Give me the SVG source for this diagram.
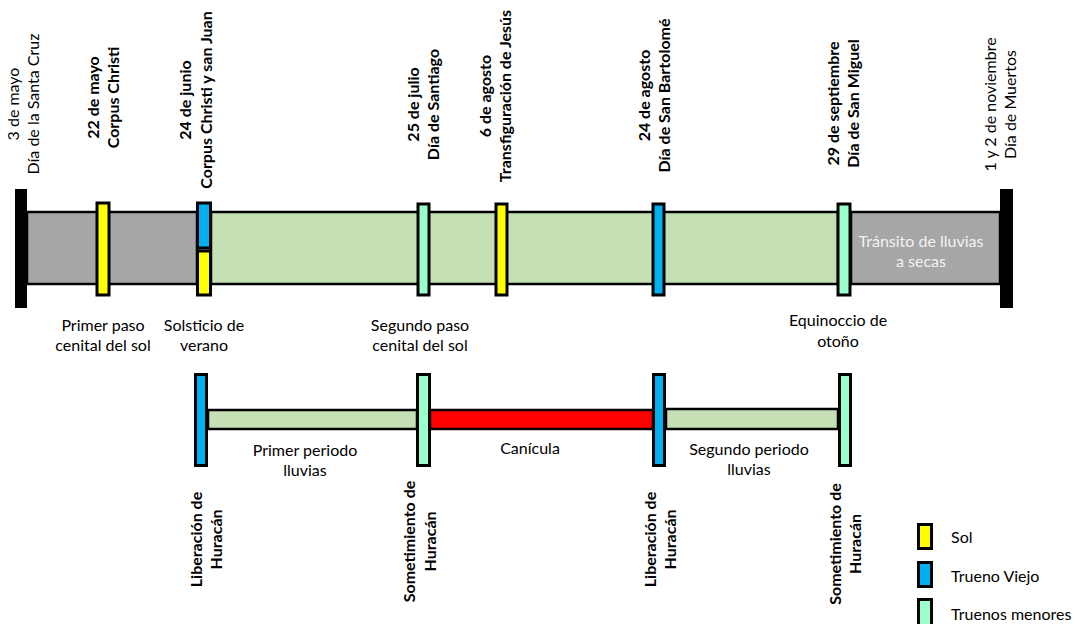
<svg xmlns="http://www.w3.org/2000/svg" width="1075" height="624" viewBox="0 0 1075 624">
<style>
text{font-family:Lato,"Open Sans","Liberation Sans",sans-serif;font-size:16px;fill:#000}
.b{font-weight:700}
.c{text-anchor:middle}
.w{fill:#f2f2f2}
.bar{stroke:#000;stroke-width:2.5}
.mk{stroke:#000;stroke-width:3}
.sol{fill:#ffff00}
.tv{fill:#00b0f0}
.tm{fill:#99ffcc}
.gray{fill:#a6a6a6}
.green{fill:#c5e0b4}
.red{fill:#ff0000}
.cap{fill:#000}
</style>
<rect width="1075" height="624" fill="#fff"/>
<g id="connectors">
<rect class="bar gray" x="27" y="212" width="170" height="72"/>
<rect class="bar green" x="211" y="212" width="627" height="72"/>
<rect class="bar gray" x="851" y="212" width="149" height="72"/>
<rect class="bar green" x="208" y="410" width="209" height="19"/>
<rect class="bar red" x="430" y="410" width="223" height="19"/>
<rect class="bar green" x="666" y="409" width="172" height="20"/>
</g>
<g id="cap-start"><rect class="cap" x="15" y="189" width="12" height="119"/>
<text transform="translate(19,104) rotate(-90)" class="c"><tspan x="0" y="0">3 de mayo</tspan><tspan x="0" y="20">Día de la Santa Cruz</tspan></text></g>
<g id="cap-end"><rect class="cap" x="1000" y="189" width="13" height="119"/>
<text transform="translate(996,104.5) rotate(-90)" class="c"><tspan x="0" y="0">1 y 2 de noviembre</tspan><tspan x="0" y="20">Día de Muertos</tspan></text></g>
<g id="m-22mayo"><rect class="mk sol" x="97" y="203" width="12" height="92"/>
<text transform="translate(99,97.5) rotate(-90)" class="c b"><tspan x="0" y="0">22 de mayo</tspan><tspan x="0" y="20">Corpus Christi</tspan></text>
<text class="c" x="103" y="331">Primer paso</text><text class="c" x="103" y="351">cenital del sol</text></g>
<g id="m-24junio"><rect class="mk tv" x="197.5" y="203" width="13" height="45"/><rect class="mk sol" x="197.5" y="251" width="13" height="44"/>
<text transform="translate(191,100) rotate(-90)" class="c b"><tspan x="0" y="0">24 de junio</tspan><tspan x="0" y="21">Corpus Christi y san Juan</tspan></text>
<text class="c" x="204" y="331">Solsticio de</text><text class="c" x="204" y="351">verano</text></g>
<g id="m-25julio"><rect class="mk tm" x="418" y="204" width="11" height="91"/>
<text transform="translate(419,104.5) rotate(-90)" class="c b"><tspan x="0" y="0">25 de julio</tspan><tspan x="0" y="20">Día de Santiago</tspan></text>
<text class="c" x="420" y="331">Segundo paso</text><text class="c" x="420" y="351">cenital del sol</text></g>
<g id="m-6agosto"><rect class="mk sol" x="496" y="204" width="11" height="91"/>
<text transform="translate(491,96) rotate(-90)" class="c b"><tspan x="0" y="0">6 de agosto</tspan><tspan x="0" y="20">Transfiguración de Jesús</tspan></text></g>
<g id="m-24agosto"><rect class="mk tv" x="653" y="204" width="11" height="91"/>
<text transform="translate(650,95.5) rotate(-90)" class="c b"><tspan x="0" y="0">24 de agosto</tspan><tspan x="0" y="20">Día de San Bartolomé</tspan></text></g>
<g id="m-29sept"><rect class="mk tm" x="838" y="204" width="12" height="91"/>
<text transform="translate(839,103.5) rotate(-90)" class="c b"><tspan x="0" y="0">29 de septiembre</tspan><tspan x="0" y="20">Día de San Miguel</tspan></text>
<text class="c" x="838" y="326">Equinoccio de</text><text class="c" x="838" y="347">otoño</text></g>
<g id="transito"><text class="c w" x="921" y="247">Tránsito de lluvias</text><text class="c w" x="921" y="267">a secas</text></g>
<g id="l-liberacion1"><rect class="mk tv" x="195.5" y="374.5" width="11" height="91"/>
<text transform="translate(202,539.5) rotate(-90)" class="c b"><tspan x="0" y="0">Liberación de</tspan><tspan x="0" y="20">Huracán</tspan></text></g>
<g id="l-sometimiento1"><rect class="mk tm" x="417.5" y="374.5" width="12" height="91"/>
<text transform="translate(415,541.5) rotate(-90)" class="c b"><tspan x="0" y="0">Sometimiento  de</tspan><tspan x="0" y="21">Huracán</tspan></text></g>
<g id="l-liberacion2"><rect class="mk tv" x="653.5" y="374.5" width="11" height="91"/>
<text transform="translate(656,539.5) rotate(-90)" class="c b"><tspan x="0" y="0">Liberación de</tspan><tspan x="0" y="20">Huracán</tspan></text></g>
<g id="l-sometimiento2"><rect class="mk tm" x="839.5" y="374.5" width="11" height="91"/>
<text transform="translate(841,544) rotate(-90)" class="c b"><tspan x="0" y="0">Sometimiento  de</tspan><tspan x="0" y="20">Huracán</tspan></text></g>
<g id="p-primer"><text class="c" x="305" y="456">Primer periodo</text><text class="c" x="305" y="476">lluvias</text></g>
<g id="p-canicula"><text class="c" x="530" y="454">Canícula</text></g>
<g id="p-segundo"><text class="c" x="749" y="455">Segundo periodo</text><text class="c" x="749" y="475">lluvias</text></g>
<g id="legend">
<rect class="mk sol" x="918.5" y="524.5" width="13" height="24"/><text x="951" y="543">Sol</text>
<rect class="mk tv" x="918.5" y="562.5" width="13" height="24"/><text x="951" y="582">Trueno Viejo</text>
<rect class="mk tm" x="918.5" y="599.5" width="13" height="27"/><text x="951" y="620">Truenos menores</text>
</g>
</svg>
